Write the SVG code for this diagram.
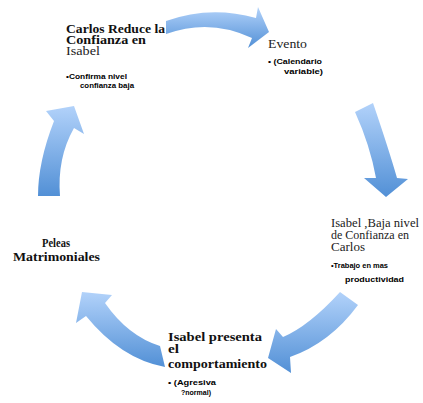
<svg xmlns="http://www.w3.org/2000/svg" width="423" height="403" viewBox="0 0 423 403">
<defs>
<linearGradient id="g" x1="0" y1="0" x2="0" y2="1">
<stop offset="0" stop-color="#b2d2fa"/>
<stop offset="1" stop-color="#5290d6"/>
</linearGradient>
<style>
.a{fill:url(#g);stroke:none}
.h{font-family:"Liberation Serif",serif;font-weight:bold;font-size:11.5px;fill:#111}
.hl{font-family:"Liberation Serif",serif;font-size:11.5px;fill:#222}
.b{font-family:"Liberation Sans",sans-serif;font-weight:bold;font-size:7px;fill:#000}
</style>
</defs>
<rect width="423" height="403" fill="#fff"/>
<g id="connectors">
<path class="a" d="M166,21 Q210,5 256,18 L258,7 L269,32 L248,48 L252,38 Q210,18 166,34 Z"/>
<path class="a" d="M355,112 L373,103 Q389,150 397,178 L408,179 L386,197 L364,178 L376,178 Q370,145 355,112 Z"/>
<path class="a" d="M340,292 L358,305 Q330,343 290,357 L291,373 L268,358 L276,329 L283,337 Q309,326 340,292 Z"/>
<path class="a" d="M160,346 Q128,336 105,303 L112,295 L82,292 L76,323 L86,316 Q121,359 165,367 Z"/>
<path class="a" d="M38,196 Q38,162 54,121 L46,111 L74,106 L84,134 L74,128 Q57,158 60,196 Z"/>
</g>
<g id="node1">
<text class="h" x="66" y="33" textLength="99" lengthAdjust="spacingAndGlyphs">Carlos Reduce la</text>
<text class="h" x="66" y="44" textLength="80" lengthAdjust="spacingAndGlyphs">Confianza en</text>
<text class="hl" x="66" y="55" font-size="9" textLength="34" lengthAdjust="spacingAndGlyphs">Isabel</text>
<text class="b" x="66" y="79" textLength="61" lengthAdjust="spacingAndGlyphs">•Confirma nivel</text>
<text class="b" x="80" y="88" textLength="54" lengthAdjust="spacingAndGlyphs">confianza baja</text>
</g>
<g id="node2">
<text class="hl" x="268" y="48" textLength="39" lengthAdjust="spacingAndGlyphs">Evento</text>
<text class="b" x="268" y="64" textLength="54" lengthAdjust="spacingAndGlyphs">• (Calendario</text>
<text class="b" x="284" y="74" textLength="39" lengthAdjust="spacingAndGlyphs">variable)</text>
</g>
<g id="node3">
<text class="hl" x="331" y="227" textLength="88" lengthAdjust="spacingAndGlyphs">Isabel ,Baja nivel</text>
<text class="hl" x="331" y="239" textLength="78" lengthAdjust="spacingAndGlyphs">de Confianza en</text>
<text class="hl" x="331" y="251" textLength="34" lengthAdjust="spacingAndGlyphs">Carlos</text>
<text class="b" x="331" y="268" textLength="57" lengthAdjust="spacingAndGlyphs">•Trabajo en mas</text>
<text class="b" x="345" y="282" textLength="59" lengthAdjust="spacingAndGlyphs">productividad</text>
</g>
<g id="node4">
<text class="h" x="168" y="341" textLength="94" lengthAdjust="spacingAndGlyphs">Isabel presenta</text>
<text class="h" x="168" y="353" textLength="11" lengthAdjust="spacingAndGlyphs">el</text>
<text class="h" x="168" y="368" textLength="99" lengthAdjust="spacingAndGlyphs">comportamiento</text>
<text class="b" x="168" y="385" textLength="48" lengthAdjust="spacingAndGlyphs">• (Agresiva</text>
<text class="b" x="181" y="395" textLength="30" lengthAdjust="spacingAndGlyphs">?normal)</text>
</g>
<g id="node5">
<text class="h" x="56" y="247" font-size="9" text-anchor="middle" textLength="28" lengthAdjust="spacingAndGlyphs">Peleas</text>
<text class="h" x="13" y="261" textLength="87" lengthAdjust="spacingAndGlyphs">Matrimoniales</text>
</g>
</svg>
